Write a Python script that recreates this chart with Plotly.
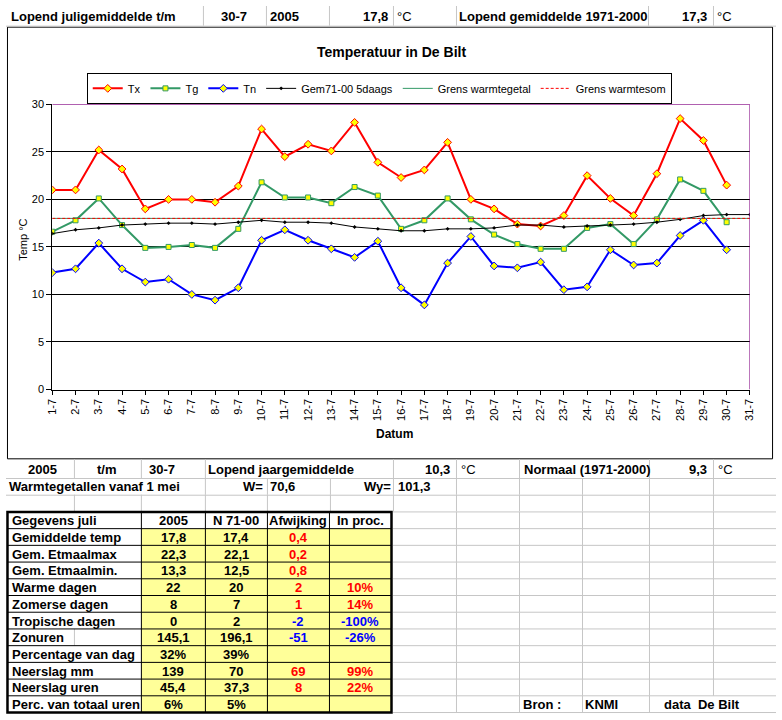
import plotly.graph_objects as go

W, H = 782, 720

# ---------------- data ----------------
days = ["1-7", "2-7", "3-7", "4-7", "5-7", "6-7", "7-7", "8-7", "9-7", "10-7",
        "11-7", "12-7", "13-7", "14-7", "15-7", "16-7", "17-7", "18-7", "19-7", "20-7",
        "21-7", "22-7", "23-7", "24-7", "25-7", "26-7", "27-7", "28-7", "29-7", "30-7", "31-7"]

tx = [21.0, 21.0, 25.2, 23.2, 19.0, 20.0, 20.0, 19.7, 21.4, 27.4,
      24.5, 25.8, 25.1, 28.1, 23.9, 22.3, 23.1, 26.0, 20.0, 19.0,
      17.4, 17.2, 18.3, 22.5, 20.1, 18.3, 22.7, 28.5, 26.2, 21.5]
tg = [16.6, 17.8, 20.1, 17.3, 14.9, 15.0, 15.2, 14.9, 16.9, 21.8,
      20.2, 20.2, 19.6, 21.3, 20.4, 16.9, 17.8, 20.1, 17.9, 16.3,
      15.3, 14.8, 14.8, 17.0, 17.4, 15.3, 17.9, 22.1, 20.9, 17.6]
tn = [12.3, 12.7, 15.4, 12.7, 11.3, 11.6, 10.0, 9.4, 10.7, 15.7,
      16.8, 15.7, 14.8, 13.9, 15.6, 10.7, 8.9, 13.3, 16.1, 13.0,
      12.8, 13.4, 10.5, 10.8, 14.7, 13.1, 13.3, 16.2, 17.8, 14.7]
gem7100 = [16.4, 16.8, 17.0, 17.3, 17.4, 17.5, 17.5, 17.4, 17.6, 17.8,
           17.6, 17.6, 17.5, 17.1, 16.9, 16.7, 16.7, 16.9, 16.9, 17.0,
           17.3, 17.3, 17.1, 17.2, 17.3, 17.4, 17.6, 17.9, 18.3, 18.4, 18.4]
grens_warmtegetal = [18, 18, 18, 18, 18, 18, 18, 18, 18, 18, 18, 18, 18, 18, 18, 18,
                     18, 18, 18, 18, 18, 18, 18, 18, 18, 18, 18, 18, 18, 18, 18]
grens_warmtesom = [18, 18, 18, 18, 18, 18, 18, 18, 18, 18, 18, 18, 18, 18, 18, 18,
                   18, 18, 18, 18, 18, 18, 18, 18, 18, 18, 18, 18, 18, 18, 18]
y_ticks = [0, 5, 10, 15, 20, 25, 30]

chart_title = "Temperatuur in De Bilt"
x_title = "Datum"
y_title = "Temp °C"

# spreadsheet cells
top_label = "Lopend juligemiddelde t/m"
top_date = "30-7"
top_year = "2005"
month_mean = "17,8"
unit = "°C"
norm_label = "Lopend gemiddelde 1971-2000"
norm_mean = "17,3"

year_label = "2005"
tm_label = "t/m"
year_date = "30-7"
year_mean_label = "Lopend jaargemiddelde"
year_mean = "10,3"
year_norm_label = "Normaal (1971-2000)"
year_norm = "9,3"

warm_label = "Warmtegetallen vanaf 1 mei"
w_label, w_value = "W=", "70,6"
wy_label, wy_value = "Wy=", "101,3"

tbl_header = ["Gegevens juli", "2005", "N 71-00", "Afwijking", "In proc."]
tbl_labels = ["Gemiddelde temp", "Gem. Etmaalmax", "Gem. Etmaalmin.", "Warme dagen",
              "Zomerse dagen", "Tropische dagen", "Zonuren", "Percentage van dag",
              "Neerslag mm", "Neerslag uren", "Perc. van totaal uren"]
val_2005 = ["17,8", "22,3", "13,3", "22", "8", "0", "145,1", "32%", "139", "45,4", "6%"]
val_norm = ["17,4", "22,1", "12,5", "20", "7", "2", "196,1", "39%", "70", "37,3", "5%"]
val_afw = ["0,4", "0,2", "0,8", "2", "1", "-2", "-51", "", "69", "8", ""]
val_proc = ["", "", "", "10%", "14%", "-100%", "-26%", "", "99%", "22%", ""]

footer = ["Bron :", "KNMI", "data  De Bilt"]

# ---------------- helpers ----------------
FONT = "Liberation Sans, Arial, sans-serif"
GRID = "#c6c6c6"


def px(x):
    return x / W


def py(y):
    return 1 - y / H


shapes = []
annos = []


def hline(x0, x1, y, color=GRID, width=1):
    shapes.append(dict(type="line", xref="paper", yref="paper", x0=px(x0), x1=px(x1),
                       y0=py(y), y1=py(y), line=dict(color=color, width=width), layer="above"))


def vline(x, y0, y1, color=GRID, width=1):
    shapes.append(dict(type="line", xref="paper", yref="paper", x0=px(x), x1=px(x),
                       y0=py(y0), y1=py(y1), line=dict(color=color, width=width), layer="above"))


def rect(x0, y0, x1, y1, fill=None, color=None, width=0):
    d = dict(type="rect", xref="paper", yref="paper", x0=px(x0), x1=px(x1),
             y0=py(y1), y1=py(y0), layer="below",
             line=dict(color=color if color else "rgba(0,0,0,0)", width=width))
    if fill:
        d["fillcolor"] = fill
    shapes.append(d)


def txt(x, y, s, anchor="left", bold=True, color="black", size=13, angle=0):
    if s == "":
        return
    annos.append(dict(x=px(x), y=py(y), xref="paper", yref="paper", text=s, showarrow=False,
                      xanchor=anchor, yanchor="middle", textangle=angle,
                      font=dict(family=FONT, size=size, color=color,
                                weight="bold" if bold else "normal")))


# ---------------- chart ----------------
GREEN = "#339966"
fig = go.Figure()
fig.add_trace(go.Scatter(x=days[:len(tx)], y=tx, name="Tx", mode="lines+markers",
                         line=dict(color="#ff0000", width=2),
                         marker=dict(symbol="diamond", size=6, color="#ffff00",
                                     line=dict(color="#ff0000", width=1))))
fig.add_trace(go.Scatter(x=days[:len(tg)], y=tg, name="Tg", mode="lines+markers",
                         line=dict(color=GREEN, width=2),
                         marker=dict(symbol="square", size=5, color="#ffff00",
                                     line=dict(color=GREEN, width=1))))
fig.add_trace(go.Scatter(x=days[:len(tn)], y=tn, name="Tn", mode="lines+markers",
                         line=dict(color="#0000ff", width=2),
                         marker=dict(symbol="diamond", size=6, color="#ffff00",
                                     line=dict(color="#0000ff", width=1))))
fig.add_trace(go.Scatter(x=days, y=gem7100, name="Gem71-00 5daags", mode="lines+markers",
                         line=dict(color="#000000", width=1),
                         marker=dict(symbol="diamond", size=3, color="#000000")))
fig.add_trace(go.Scatter(x=days, y=grens_warmtegetal, name="Grens warmtegetal", mode="lines",
                         line=dict(color=GREEN, width=1)))
fig.add_trace(go.Scatter(x=days, y=grens_warmtesom, name="Grens warmtesom", mode="lines",
                         line=dict(color="#ff0000", width=1, dash="3px,2px")))

# chart frame (spreadsheet chart object)
rect(1.5, 21.5, 778.5, 460.5, fill="white", color="black", width=1)
# purple plot-area border (top & right)
shapes.append(dict(type="line", xref="x", yref="y", x0=0, x1=len(days) - 1, y0=30, y1=30,
                   line=dict(color="#800080", width=1), layer="above"))
shapes.append(dict(type="line", xref="x", yref="y", x0=len(days) - 1, x1=len(days) - 1, y0=0, y1=30,
                   line=dict(color="#800080", width=1), layer="above"))

txt(391, 47, chart_title, "center", True, size=14)
txt(395, 435, x_title, "center", True, size=12)
txt(17, 238, y_title, "center", False, size=11, angle=-90)

# ---------------- spreadsheet grid ----------------
# top row
for x in [200, 264, 328, 393, 457, 652, 718]:
    vline(x + 0.5, 0, 20)
hline(0, 782, 20.5)
txt(3, 11, top_label)
txt(232, 11, top_date, "center")
txt(266, 11, top_year)
txt(390, 11, month_mean, "right")
txt(395, 11, unit, bold=False)
txt(458, 11, norm_label)
txt(714, 11, norm_mean, "right")
txt(720, 11, unit, bold=False)

# rows under the chart
for x in [69, 137, 202, 393, 457, 521, 653, 718]:
    vline(x + 0.5, 461, 480)
hline(0, 782, 480.5)
for x in [202, 265, 329, 393, 457, 521, 585, 653, 718]:
    vline(x + 0.5, 480, 497)
hline(0, 782, 497.5)
for x in [69, 137, 202, 265, 329, 393, 457, 521, 585, 653, 718]:
    vline(x + 0.5, 497, 514)

txt(37, 471, year_label, "center")
txt(103, 471, tm_label, "center")
txt(158, 471, year_date, "center")
txt(203, 471, year_mean_label)
txt(453, 471, year_mean, "right")
txt(460, 471, unit, bold=False)
txt(524, 471, year_norm_label)
txt(714, 471, year_norm, "right")
txt(721, 471, unit, bold=False)

txt(1, 489, warm_label)
txt(263, 489, w_label, "right")
txt(266, 489, w_value)
txt(393, 489, wy_label, "right")
txt(396, 489, wy_value)

# ---------------- table ----------------
row_edges = [514.5, 531.5, 548.5, 565.5, 582.5, 599.5, 616.5, 633.5, 650.5,
             667.5, 684.5, 701.5, 718.5]
tcols = [1.5, 137.5, 202.5, 265.5, 328.5, 391.5]
n_rows = len(tbl_labels) + 1

# right-hand empty grid
for e in row_edges:
    hline(393, 782, e)
for i in range(n_rows):
    for x in [457, 521, 585, 653, 718]:
        if i == n_rows - 1 and x == 718:
            continue
        vline(x + 0.5, row_edges[i], row_edges[i + 1])

# yellow cells
rect(tcols[1], row_edges[1], tcols[5], row_edges[-1], fill="#ffff99")
# gridline visible next to the short label "Zonuren"
zi = tbl_labels.index("Zonuren") + 1
vline(69.5, row_edges[zi], row_edges[zi + 1])
# inner black lines
for e in row_edges[1:-1]:
    hline(tcols[0], tcols[5], e, color="black")
for x in tcols[1:5]:
    vline(x, row_edges[0], row_edges[-1], color="black")
# thick outer border
shapes.append(dict(type="rect", xref="paper", yref="paper", x0=px(1.5), x1=px(391.5),
                   y0=py(718.5), y1=py(514.5), line=dict(color="black", width=2.5), layer="above"))

centers = [(tcols[i] + tcols[i + 1]) / 2 for i in range(5)]


def ycen(i):
    return (row_edges[i] + row_edges[i + 1]) / 2 + 0.5


txt(4, ycen(0), tbl_header[0])
for j in range(1, 5):
    txt(centers[j], ycen(0), tbl_header[j], "center")


def sign_color(s):
    return "#0000ff" if s.startswith("-") else "#ff0000"


for i, lab in enumerate(tbl_labels):
    r = i + 1
    txt(4, ycen(r), lab)
    txt(centers[1], ycen(r), val_2005[i], "center")
    txt(centers[2], ycen(r), val_norm[i], "center")
    txt(centers[3], ycen(r), val_afw[i], "center", color=sign_color(val_afw[i]))
    txt(centers[4], ycen(r), val_proc[i], "center", color=sign_color(val_proc[i]))

last = n_rows - 1
txt(523, ycen(last), footer[0])
txt(586, ycen(last), footer[1])
txt(666, ycen(last), footer[2])

# ---------------- layout ----------------
fig.update_layout(
    width=W, height=H, margin=dict(l=0, r=0, t=0, b=0),
    paper_bgcolor="white", plot_bgcolor="white",
    font=dict(family=FONT, size=11, color="black"),
    showlegend=True,
    legend=dict(orientation="h", x=px(82), y=py(68), xanchor="left", yanchor="top",
                bordercolor="black", borderwidth=1, bgcolor="white",
                font=dict(family=FONT, size=11), itemwidth=30,
                tracegroupgap=0),
    xaxis=dict(domain=[px(47), px(755.5)], type="category", range=[0, len(days) - 1],
               tickmode="array", tickvals=days, ticktext=days, tickangle=-90,
               ticks="outside", ticklen=4, tickcolor="black", showline=True,
               linecolor="black", linewidth=1, showgrid=False, zeroline=False,
               tickfont=dict(family=FONT, size=11)),
    yaxis=dict(domain=[py(390), py(100)], range=[0, 30], tickvals=y_ticks,
               ticks="outside", ticklen=5, tickcolor="black", showline=True,
               linecolor="black", linewidth=1, showgrid=True, gridcolor="black",
               gridwidth=1, zeroline=False, tickfont=dict(family=FONT, size=11)),
    shapes=shapes, annotations=annos, hovermode=False,
)

fig.write_html("out.html", config={"displayModeBar": False, "staticPlot": True},
               post_script="document.body.style.margin='0';document.body.style.overflow='hidden';")
